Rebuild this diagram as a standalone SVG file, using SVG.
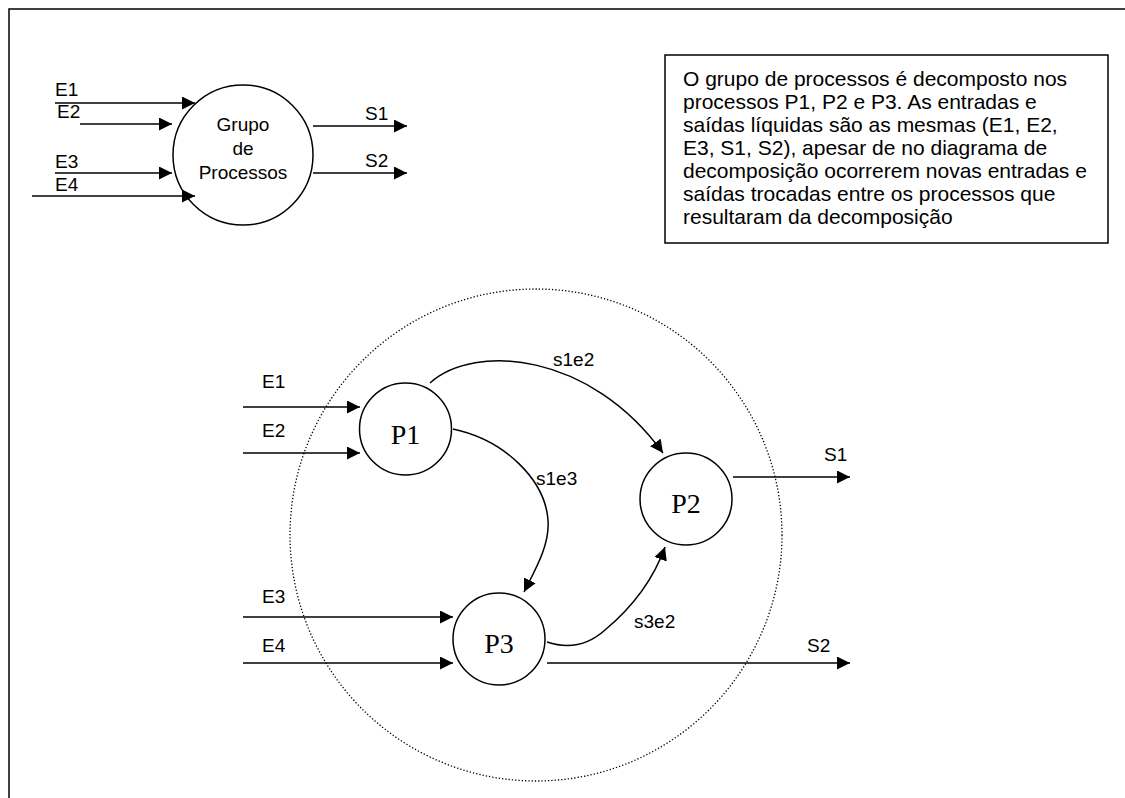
<svg xmlns="http://www.w3.org/2000/svg" width="1125" height="798" viewBox="0 0 1125 798">
<style>
.ln{fill:none;stroke:#000;stroke-width:1.5}
.nd{fill:#fff;stroke:#000;stroke-width:1.5}
.t{font-family:"Liberation Sans",Arial,sans-serif;font-size:19px;fill:#000}
.bt{font-family:"Liberation Sans",Arial,sans-serif;font-size:21px;fill:#000}
.p{font-family:"Liberation Serif","Times New Roman",serif;font-size:28px;fill:#000;text-anchor:middle}
.a{marker-end:url(#ah)}
</style>
<defs>
<marker id="ah" markerUnits="userSpaceOnUse" markerWidth="14" markerHeight="14" refX="13" refY="6.5" orient="auto">
<path d="M0,0 L13,6.5 L0,13 z" fill="#000"/>
</marker>
</defs>
<rect width="1125" height="798" fill="#fff"/>
<path d="M9,798 V9 H1125" fill="none" stroke="#000" stroke-width="1.5"/>
<g id="boundary">
<circle cx="536" cy="535" r="246" fill="none" stroke="#000" stroke-width="1.3" stroke-dasharray="1.3 2"/>
</g>
<g id="note">
<rect x="665" y="55" width="443" height="188" fill="#fff" stroke="#000" stroke-width="1.5"/>
<text class="bt" x="683" y="86">O grupo de processos é decomposto nos</text>
<text class="bt" x="683" y="109">processos P1, P2 e P3. As entradas e</text>
<text class="bt" x="683" y="132">saídas líquidas são as mesmas (E1, E2,</text>
<text class="bt" x="683" y="155">E3, S1, S2), apesar de no diagrama de</text>
<text class="bt" x="683" y="178">decomposição ocorrerem novas entradas e</text>
<text class="bt" x="683" y="201">saídas trocadas entre os processos que</text>
<text class="bt" x="683" y="224">resultaram da decomposição</text>
</g>
<g id="grupo">
<circle class="nd" cx="243" cy="155" r="70"/>
<text class="t" x="243" y="131" text-anchor="middle" font-size="20">Grupo</text>
<text class="t" x="243" y="155" text-anchor="middle" font-size="20">de</text>
<text class="t" x="243" y="179" text-anchor="middle" font-size="20">Processos</text>
</g>
<g id="P1"><circle class="nd" cx="405.5" cy="429" r="46"/><text class="p" x="405.5" y="444">P1</text></g>
<g id="P2"><circle class="nd" cx="686" cy="499" r="46"/><text class="p" x="686" y="513">P2</text></g>
<g id="P3"><circle class="nd" cx="499" cy="639" r="46"/><text class="p" x="499" y="653">P3</text></g>
<g id="connectors">
<line class="ln a" x1="55" y1="103" x2="195" y2="103"/>
<line class="ln a" x1="80" y1="124" x2="172" y2="124"/>
<line class="ln a" x1="55" y1="173" x2="172" y2="173"/>
<line class="ln a" x1="32" y1="196" x2="195" y2="196"/>
<line class="ln a" x1="313" y1="126" x2="407" y2="126"/>
<line class="ln a" x1="313" y1="173" x2="407" y2="173"/>
<line class="ln a" x1="243" y1="407" x2="360" y2="407"/>
<line class="ln a" x1="243" y1="453" x2="360" y2="453"/>
<line class="ln a" x1="243" y1="617" x2="453" y2="617"/>
<line class="ln a" x1="243" y1="663" x2="453" y2="663"/>
<line class="ln a" x1="733" y1="477" x2="850" y2="477"/>
<line class="ln a" x1="547" y1="663" x2="850" y2="663"/>
<path class="ln a" d="M430,383 C475,343 590,352 663,453"/>
<path class="ln a" d="M453,429 C505,440 545,480 548,520 C550,545 535,570 524,592"/>
<path class="ln a" d="M547,642 C565,648 585,648 605,630 C635,605 655,575 665,547"/>
</g>
<g id="labels">
<text class="t" x="55" y="96">E1</text>
<text class="t" x="57" y="118">E2</text>
<text class="t" x="55" y="168">E3</text>
<text class="t" x="55" y="191">E4</text>
<text class="t" x="365" y="120">S1</text>
<text class="t" x="365" y="167">S2</text>
<text class="t" x="262" y="388">E1</text>
<text class="t" x="262" y="437">E2</text>
<text class="t" x="262" y="603">E3</text>
<text class="t" x="262" y="652">E4</text>
<text class="t" x="553" y="366">s1e2</text>
<text class="t" x="536" y="485">s1e3</text>
<text class="t" x="634" y="628">s3e2</text>
<text class="t" x="824" y="461">S1</text>
<text class="t" x="807" y="652">S2</text>
</g>
</svg>
